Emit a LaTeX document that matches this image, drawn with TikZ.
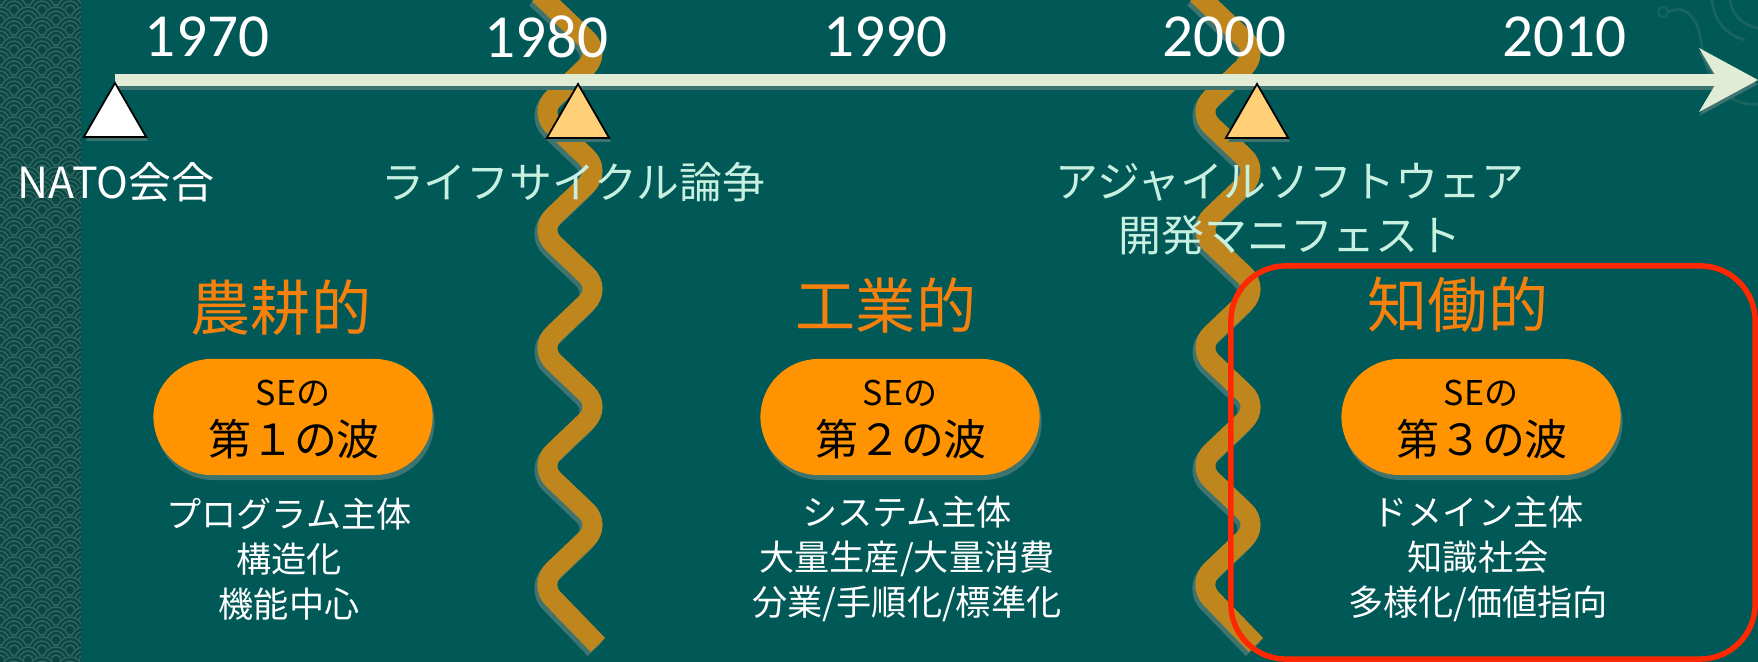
\documentclass[tikz,border=0pt]{standalone}
\usepackage{fontspec}
\usepackage{xcolor}
\usepackage{tikz}
\usetikzlibrary{arrows.meta,positioning,shapes.geometric,shadows}
\newfontfamily\jpfont{Noto Sans CJK JP}
\newfontfamily\yearfont{Carlito}
\definecolor{slate}{RGB}{0,88,87}
\definecolor{stripteal}{RGB}{12,70,66}
\definecolor{ringteal}{RGB}{46,104,99}
\definecolor{ornament}{RGB}{24,100,95}
\definecolor{shadowteal}{RGB}{62,116,112}
\definecolor{axisgreen}{RGB}{224,236,214}
\definecolor{rope}{RGB}{191,134,30}
\definecolor{eventtri}{RGB}{255,208,120}
\definecolor{pillorange}{RGB}{255,148,0}
\definecolor{eraorange}{RGB}{245,128,12}
\definecolor{mint}{RGB}{200,240,225}
\definecolor{alertred}{RGB}{255,40,0}

\tikzset{
  marker/.style={regular polygon,regular polygon sides=3,minimum size=0.72cm,inner sep=0pt,draw=black,line width=0.5pt,
    drop shadow={shadow xshift=0.02cm,shadow yshift=-0.04cm,fill=shadowteal,opacity=1}},
  pill/.style={fill=pillorange,rounded corners=0.58cm,minimum width=2.79cm,minimum height=1.16cm,inner sep=0pt,
    drop shadow={shadow xshift=0.02cm,shadow yshift=-0.05cm,fill=shadowteal,opacity=1}},
}

\begin{document}
\begin{tikzpicture}[x=0.01cm,y=-0.01cm,
  year/.style={text=white,inner sep=0pt,font=\yearfont\fontsize{17.4}{20}\selectfont},
  event/.style={text=mint,align=center,inner sep=0pt,font=\jpfont\fontsize{12.2}{15.4}\selectfont},
  era/.style={text=eraorange,inner sep=0pt,font=\jpfont\fontsize{17.1}{20}\selectfont},
  setext/.style={text=black,inner sep=0pt,font=\jpfont\fontsize{9.7}{11}\selectfont},
  wavetext/.style={text=black,inner sep=0pt,font=\jpfont\fontsize{12.2}{14}\selectfont},
  desc/.style={text=white,align=center,inner sep=0pt,font=\jpfont\fontsize{10}{12.8}\selectfont}]
\useasboundingbox (0,0) rectangle (1758,662);
\fill[slate] (0,0) rectangle (1758,662);

% wave pattern strip
\begin{scope}
\clip (0,0) rectangle (81,662);
\fill[stripteal] (0,0) rectangle (81,662);
\foreach \r in {0,...,68}{
  \foreach \c in {-1,...,3}{
    \pgfmathsetmacro\cx{\c*28+mod(\r,2)*14}
    \pgfmathsetmacro\cy{\r*10}
    \fill[stripteal] (\cx,\cy) circle[radius=14];
    \foreach \k in {5,9,13} \draw[ringteal,line width=0.4pt] (\cx,\cy) circle[radius=\k];
  }
}
\end{scope}

% bird in the corner
\draw[ornament,line width=0.6pt] (1663,12) circle[radius=5];
\draw[ornament,line width=0.8pt] (1668,12) .. controls (1690,2) and (1700,25) .. (1702,48)
  .. controls (1706,85) and (1735,108) .. (1758,104);
\draw[ornament,line width=0.8pt] (1712,0) .. controls (1714,20) and (1725,35) .. (1745,40);
\draw[ornament,line width=0.8pt] (1730,0) .. controls (1732,15) and (1742,25) .. (1758,28);

% eras are cut by two ropes
\foreach \cx in {570,1228}{
  \draw[shadowteal,line width=0.2cm,rounded corners=0.2cm,transform canvas={xshift=-0.03cm,yshift=-0.04cm}]
    (\cx-31,-6) \foreach \k in {0,...,4}{ -- (\cx+31,53+118*\k) -- (\cx-31,112+118*\k) } -- (\cx+28,645);
  \draw[rope,line width=0.2cm,rounded corners=0.2cm]
    (\cx-31,-6) \foreach \k in {0,...,4}{ -- (\cx+31,53+118*\k) -- (\cx-31,112+118*\k) } -- (\cx+28,645);
}

\coordinate (tstart) at (115,80);
\coordinate (tend) at (1758,80);
\draw[shadowteal,line width=0.12cm,-{Stealth[length=0.59cm,width=0.64cm,inset=0.19cm,line width=0pt]},transform canvas={yshift=-0.04cm}] (tstart) -- (tend);
\draw[axisgreen,line width=0.12cm,-{Stealth[length=0.59cm,width=0.64cm,inset=0.19cm,line width=0pt]}] (tstart) -- (tend);

\foreach \yr [count=\i from 0] in {1970,1980,1990,2000,2010}
  \node[year] (y\yr) at (207+339.3*\i,37) {\yr};

\node[marker,fill=white] (nato) at (115,119) {};
\node[marker,fill=eventtri] (lifecycle) at (578,120) {};
\node[marker,fill=eventtri] (agile) at (1257,120) {};

\node[event,text=white] (natolbl) at (116,182) {NATO会合};
\node[event] (lifecyclelbl) at (573,182) {ライフサイクル論争};
\node[event] (agilelbl) at (1290,209) {アジャイルソフトウェア\\開発マニフェスト};

\node[draw=alertred,line width=0.055cm,rounded corners=0.55cm,minimum width=5.24cm,minimum height=3.93cm] (focus) at (1493,462.5) {};

\node[era] (era1) at (281,308) {農耕的};
\node[era] (era2) at (886,306) {工業的};
\node[era] (era3) at (1458,305) {知働的};

\node[pill] (wave1) at (293,417) {};
\node[pill] (wave2) at (900,417) {};
\node[pill] (wave3) at (1481,417) {};
\node[setext] at (293,393) {SEの};
\node[wavetext] at (294,439) {第１の波};
\node[setext] at (900,393) {SEの};
\node[wavetext] at (901,439) {第２の波};
\node[setext] at (1481,393) {SEの};
\node[wavetext] at (1482,439) {第３の波};

\node[desc] (desc1) at (289,559) {プログラム主体\\構造化\\機能中心};
\node[desc] (desc2) at (907,559) {システム主体\\大量生産/大量消費\\分業/手順化/標準化};
\node[desc] (desc3) at (1478,559) {ドメイン主体\\知識社会\\多様化/価値指向};
\end{tikzpicture}
\end{document}
